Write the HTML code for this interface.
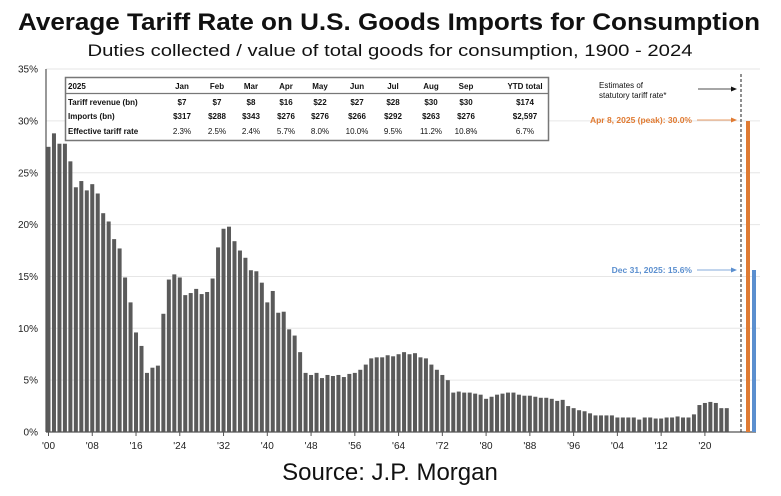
<!DOCTYPE html>
<html><head><meta charset="utf-8"><style>
body{margin:0;background:#fff}
svg{display:block;font-family:"Liberation Sans",Arial,sans-serif}
</style></head><body>
<svg id="s" width="781" height="496" viewBox="0 0 781 496" xmlns="http://www.w3.org/2000/svg">
<text x="389" y="30" text-anchor="middle" font-size="24" font-weight="bold" textLength="742" lengthAdjust="spacingAndGlyphs" fill="#111">Average Tariff Rate on U.S. Goods Imports for Consumption</text>
<text x="390" y="56" text-anchor="middle" font-size="17" textLength="605" lengthAdjust="spacingAndGlyphs" fill="#111">Duties collected / value of total goods for consumption, 1900 - 2024</text>
<g id="grid" stroke="#e6e6e6" stroke-width="1"></g>
<g id="ylab" font-size="10" fill="#222" text-anchor="end"></g>
<g id="bars" fill="#5a5a5a"></g>
<line x1="46" y1="69" x2="46" y2="432" stroke="#555" stroke-width="1.2"/>
<line x1="46" y1="432" x2="756" y2="432" stroke="#555" stroke-width="1.2"/>
<g id="xt" font-size="10" fill="#222" text-anchor="middle"></g>
<line x1="741" y1="74" x2="741" y2="432" stroke="#222" stroke-width="1" stroke-dasharray="3,2"/>
<rect x="746" y="121" width="4" height="311" fill="#e07b33"/>
<rect x="752" y="270" width="4" height="162" fill="#5b8fcf"/>
<text x="599" y="88" font-size="8" fill="#111">Estimates of</text>
<text x="599" y="98" font-size="8" fill="#111">statutory tariff rate*</text>
<line x1="698" y1="89" x2="732" y2="89" stroke="#111" stroke-width="0.8"/><polygon points="737,89 731,86.5 731,91.5" fill="#111"/>
<text x="692" y="123" font-size="8.5" font-weight="bold" fill="#e07b33" text-anchor="end">Apr 8, 2025 (peak): 30.0%</text>
<line x1="697" y1="120" x2="732" y2="120" stroke="#e07b33" stroke-width="0.8"/><polygon points="737,120 731,117.5 731,122.5" fill="#e07b33"/>
<text x="692" y="273" font-size="8.5" font-weight="bold" fill="#5b8fcf" text-anchor="end">Dec 31, 2025: 15.6%</text>
<line x1="697" y1="270" x2="732" y2="270" stroke="#5b8fcf" stroke-width="0.8"/><polygon points="737,270 731,267.5 731,272.5" fill="#5b8fcf"/>
<rect x="65.5" y="77.5" width="483" height="63" fill="#fff" stroke="#777" stroke-width="1.5"/>
<line x1="66" y1="93.5" x2="548" y2="93.5" stroke="#777" stroke-width="1.2"/>
<g id="tbl" font-size="8" fill="#111" font-weight="bold"></g>
<text x="390" y="480" text-anchor="middle" font-size="24" fill="#111">Source: J.P. Morgan</text>
</svg>
<script>
var NS="http://www.w3.org/2000/svg";
function el(p,t,a,txt){var e=document.createElementNS(NS,t);for(var k in a)e.setAttribute(k,a[k]);if(txt!=null)e.textContent=txt;document.getElementById(p).appendChild(e);}
var y0=432,k=10.37;
for(var i=0;i<=7;i++){var y=y0-i*5*k;if(i>0)el("grid","line",{x1:46,x2:760,y1:y,y2:y});el("ylab","text",{x:38,y:y+3.5},(i*5)+"%");}
var d=[27.5,28.8,27.8,27.8,26.1,23.6,24.2,23.3,23.9,23.0,21.1,20.3,18.6,17.7,14.9,12.5,9.6,8.3,5.7,6.2,6.4,11.4,14.7,15.2,14.9,13.2,13.4,13.8,13.3,13.5,14.8,17.8,19.6,19.8,18.4,17.5,16.8,15.6,15.5,14.4,12.5,13.6,11.5,11.6,9.9,9.3,7.7,5.7,5.5,5.7,5.2,5.5,5.4,5.5,5.3,5.6,5.7,6.0,6.5,7.1,7.2,7.2,7.4,7.3,7.5,7.7,7.5,7.6,7.2,7.1,6.5,6.0,5.5,5.0,3.8,3.9,3.8,3.8,3.7,3.6,3.2,3.4,3.6,3.7,3.8,3.8,3.6,3.5,3.5,3.4,3.3,3.3,3.2,3.0,3.1,2.5,2.3,2.1,2.0,1.8,1.6,1.6,1.6,1.6,1.4,1.4,1.4,1.4,1.2,1.4,1.4,1.3,1.3,1.4,1.4,1.5,1.4,1.4,1.7,2.6,2.8,2.9,2.8,2.3,2.3];
for(var i=0;i<d.length;i++){var x=46.5+i*5.47,h=d[i]*k;el("bars","rect",{x:x,y:y0-h,width:4,height:h});}
for(var yr=0;yr<=120;yr+=8){var x=48.5+yr*5.47;el("xt","line",{x1:x,x2:x,y1:432,y2:436,stroke:"#555"});el("xt","text",{x:x,y:449},"'"+String(yr%100).padStart(2,"0"));}
var rows=[["2025","Jan","Feb","Mar","Apr","May","Jun","Jul","Aug","Sep","YTD total"],["Tariff revenue (bn)","$7","$7","$8","$16","$22","$27","$28","$30","$30","$174"],["Imports (bn)","$317","$288","$343","$276","$276","$266","$292","$263","$276","$2,597"],["Effective tariff rate","2.3%","2.5%","2.4%","5.7%","8.0%","10.0%","9.5%","11.2%","10.8%","6.7%"]];
var cx=[0,182,217,251,286,320,357,393,431,466,525],ry=[89,105,119,134];
for(var r=0;r<4;r++){for(var c=0;c<11;c++){if(c==0)el("tbl","text",{x:68,y:ry[r]},rows[r][c]);else el("tbl","text",{x:cx[c],y:ry[r],"text-anchor":"middle","font-weight":(r==3?"normal":"bold")},rows[r][c]);}}
</script>
</body></html>
